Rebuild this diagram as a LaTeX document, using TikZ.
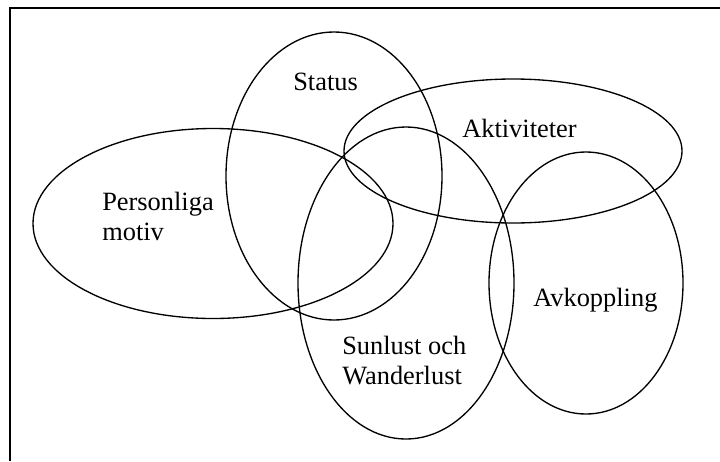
\documentclass[tikz,border=0pt]{standalone}
\usepackage{fontspec}
\setmainfont{Liberation Serif}
\usetikzlibrary{shapes.geometric}
\begin{document}
\begin{tikzpicture}[x=0.75pt,y=-0.75pt,
  oval/.style={draw,ellipse,line width=1pt,inner sep=0pt},
  lbl/.style={anchor=base west,inner sep=0pt,font=\fontsize{19.8pt}{23pt}\selectfont,align=left}]
\useasboundingbox (0,0) rectangle (720,461);
\draw[line width=1.5pt] (9.5,461) -- (9.5,7.5) -- (720,7.5);
\node[oval,minimum width=270pt,minimum height=142.5pt] (pers) at (213,223.5) {};
\node[oval,minimum width=162pt,minimum height=216pt] (stat) at (334,176) {};
\node[oval,minimum width=253.5pt,minimum height=108pt] (akt) at (513,151) {};
\node[oval,minimum width=162pt,minimum height=234pt] (sun) at (406,283) {};
\node[oval,minimum width=145.5pt,minimum height=196.5pt] (avk) at (586,283) {};
\node[lbl] (tstat) at (293,90) {Status};
\node[lbl] (tpers1) at (102,210) {Personliga};
\node[lbl] (tpers2) at (102,240) {motiv};
\node[lbl] (takt) at (462,137) {Aktiviteter};
\node[lbl] (tavk) at (533,306) {Avkoppling};
\node[lbl] (tsun1) at (342,354) {Sunlust och};
\node[lbl] (tsun2) at (342,384) {Wanderlust};
\end{tikzpicture}
\end{document}
